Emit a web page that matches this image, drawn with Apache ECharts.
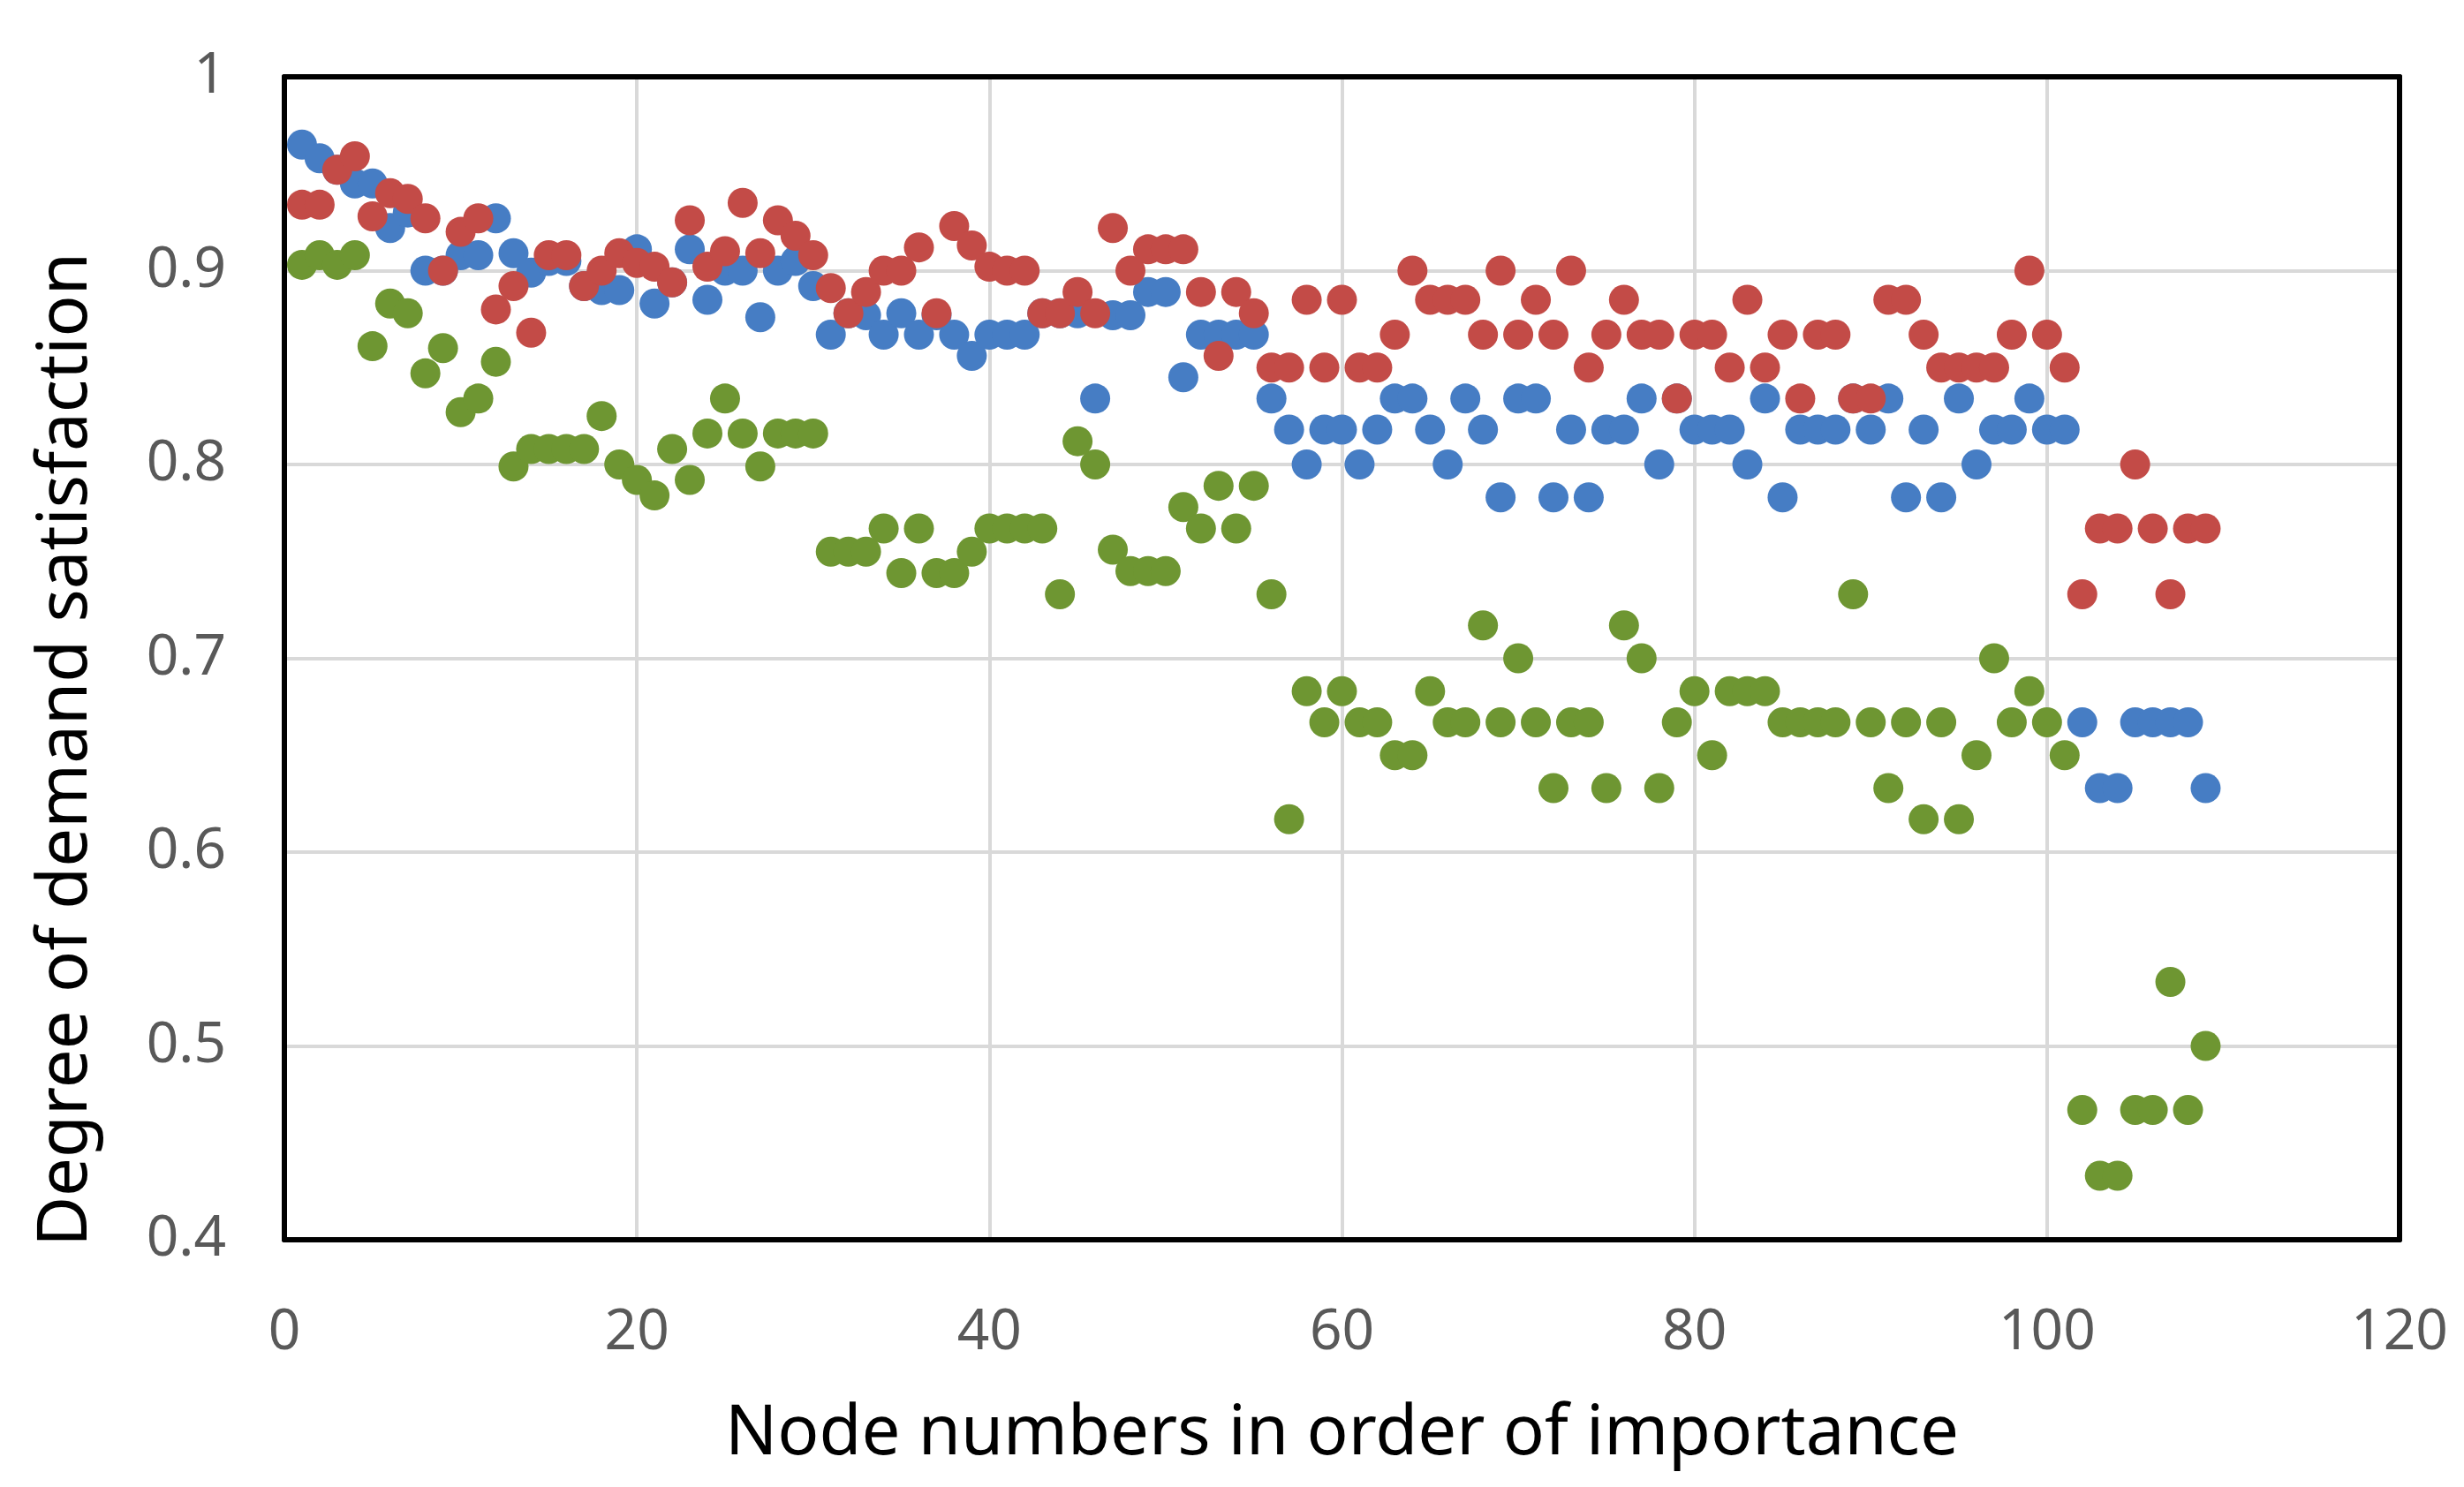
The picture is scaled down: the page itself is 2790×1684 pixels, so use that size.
<!DOCTYPE html>
<html>
<head>
<meta charset="utf-8">
<script src="https://cdn.jsdelivr.net/npm/echarts@6/dist/echarts.min.js"></script>
<style>html,body{margin:0;padding:0;background:#fff}#c{width:2790px;height:1684px}</style>
</head>
<body>
<div id="c"></div>
<script>
const nodes = [1,2,3,4,5,6,7,8,9,10,11,12,13,14,15,16,17,18,19,20,21,22,23,24,25,26,27,28,29,30,31,32,33,34,35,36,37,38,39,40,41,42,43,44,45,46,47,48,49,50,51,52,53,54,55,56,57,58,59,60,61,62,63,64,65,66,67,68,69,70,71,72,73,74,75,76,77,78,79,80,81,82,83,84,85,86,87,88,89,90,91,92,93,94,95,96,97,98,99,100,101,102,103,104,105,106,107,108,109];

const blueValues = [0.965,0.958,0.952,0.945,0.945,0.922,0.93,0.90,0.90,0.908,0.908,0.927,0.909,0.899,0.905,0.905,0.892,0.89,0.89,0.911,
0.883,0.894,0.911,0.885,0.90,0.90,0.876,0.90,0.905,0.892,0.867,0.878,0.877,0.867,0.878,0.867,0.877,0.867,0.856,0.867,
0.867,0.867,0.878,0.878,0.878,0.834,0.877,0.877,0.889,0.889,0.845,0.867,0.867,0.867,0.867,0.834,0.818,0.80,0.818,0.818,
0.80,0.818,0.834,0.834,0.818,0.80,0.834,0.818,0.783,0.834,0.834,0.783,0.818,0.783,0.818,0.818,0.834,0.80,0.834,0.818,
0.818,0.818,0.80,0.834,0.783,0.818,0.818,0.818,0.834,0.818,0.834,0.783,0.818,0.783,0.834,0.80,0.818,0.818,0.834,0.818,
0.818,0.667,0.633,0.633,0.667,0.667,0.667,0.667,0.633];

const redValues = [0.934,0.934,0.952,0.959,0.928,0.94,0.937,0.927,0.90,0.92,0.927,0.88,0.892,0.868,0.908,0.908,0.892,0.90,0.909,0.904,
0.902,0.894,0.926,0.902,0.91,0.935,0.909,0.926,0.918,0.908,0.891,0.878,0.889,0.90,0.90,0.912,0.878,0.923,0.913,0.902,
0.90,0.90,0.878,0.878,0.889,0.878,0.922,0.90,0.911,0.911,0.911,0.889,0.856,0.889,0.878,0.85,0.85,0.885,0.85,0.885,
0.85,0.85,0.867,0.90,0.885,0.885,0.885,0.867,0.90,0.867,0.885,0.867,0.90,0.85,0.867,0.885,0.867,0.867,0.834,0.867,
0.867,0.85,0.885,0.85,0.867,0.834,0.867,0.867,0.834,0.834,0.885,0.885,0.867,0.85,0.85,0.85,0.85,0.867,0.90,0.867,
0.85,0.733,0.767,0.767,0.80,0.767,0.733,0.767,0.767];

const greenValues = [0.903,0.908,0.903,0.908,0.861,0.883,0.878,0.847,0.86,0.827,0.834,0.853,0.799,0.808,0.808,0.808,0.808,0.825,0.80,0.792,
0.784,0.808,0.792,0.816,0.834,0.816,0.799,0.816,0.816,0.816,0.755,0.755,0.755,0.767,0.744,0.767,0.744,0.744,0.755,0.767,
0.767,0.767,0.767,0.733,0.812,0.80,0.756,0.745,0.745,0.745,0.778,0.767,0.789,0.767,0.789,0.733,0.617,0.683,0.667,0.683,
0.667,0.667,0.65,0.65,0.683,0.667,0.667,0.717,0.667,0.70,0.667,0.633,0.667,0.667,0.633,0.717,0.70,0.633,0.667,0.683,
0.65,0.683,0.683,0.683,0.667,0.667,0.667,0.667,0.733,0.667,0.633,0.667,0.617,0.667,0.617,0.65,0.70,0.667,0.683,0.667,
0.65,0.467,0.433,0.433,0.467,0.467,0.533,0.467,0.50];

const xTitle = 'Node numbers in order of importance';
const yTitle = 'Degree of demand satisfaction';

function pairs(vals){ return nodes.map((n,i)=>[n, vals[i]]); }

const chart = echarts.init(document.getElementById('c'));
const tickFont = {fontFamily:'Noto Sans', fontSize:64, color:'#595959'};
const frameLine = {show:true, onZero:false, lineStyle:{color:'#000', width:6}};
chart.setOption({
  animation:false,
  backgroundColor:'#fff',
  grid:{left:322, right:73, top:87, bottom:280},
  xAxis:[{
    type:'value', min:0, max:120, interval:20, position:'bottom',
    name:xTitle, nameLocation:'middle', nameGap:182,
    nameTextStyle:{fontFamily:'Noto Sans', fontSize:78, color:'#000'},
    axisLine:frameLine, axisTick:{show:false},
    axisLabel:Object.assign({margin:74}, tickFont),
    splitLine:{show:true, lineStyle:{color:'#d9d9d9', width:4}}
  },{
    type:'value', min:0, max:120, interval:20, position:'top',
    axisLine:frameLine, axisTick:{show:false}, axisLabel:{show:false}, splitLine:{show:false}
  }],
  yAxis:[{
    type:'value', min:0.4, max:1, interval:0.1, position:'left',
    axisLine:frameLine, axisTick:{show:false},
    axisLabel:Object.assign({margin:66, formatter:v=>{const r=Math.round(v*10)/10; return r===1?'1':r.toFixed(1);}}, tickFont),
    splitLine:{show:true, lineStyle:{color:'#d9d9d9', width:4}}
  },{
    type:'value', min:0.4, max:1, interval:0.1, position:'right',
    axisLine:frameLine, axisTick:{show:false}, axisLabel:{show:false}, splitLine:{show:false}
  }],
  graphic:[{
    type:'text', x:76, y:849, rotation:Math.PI/2,
    style:{text:yTitle, fontFamily:'Noto Sans', fontSize:78, fill:'#000', textAlign:'center', textVerticalAlign:'middle'}
  }],
  series:[
    {type:'scatter', name:'blue', xAxisIndex:0, yAxisIndex:0, data:pairs(blueValues), symbolSize:34, itemStyle:{color:'#467dc4', opacity:1}, z:2},
    {type:'scatter', name:'green', xAxisIndex:0, yAxisIndex:0, data:pairs(greenValues), symbolSize:34, itemStyle:{color:'#6e9632', opacity:1}, z:3},
    {type:'scatter', name:'red', xAxisIndex:0, yAxisIndex:0, data:pairs(redValues), symbolSize:34, itemStyle:{color:'#c34b47', opacity:1}, z:4}
  ]
});
</script>
</body>
</html>
